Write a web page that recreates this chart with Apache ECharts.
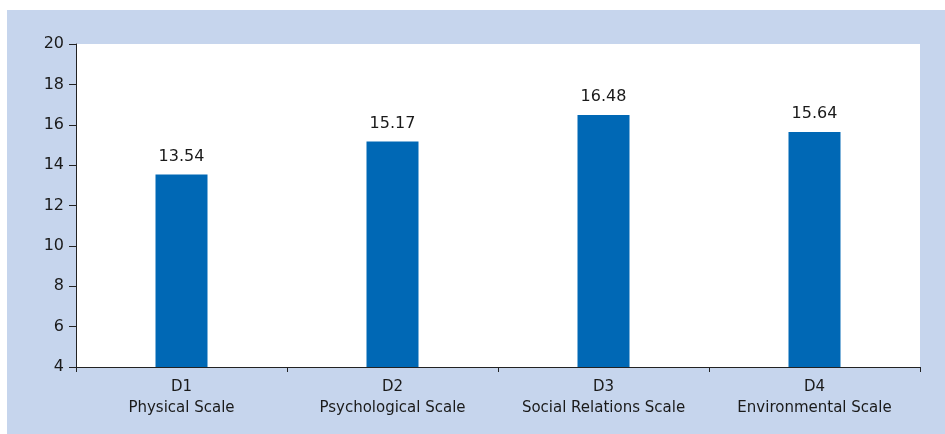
<!DOCTYPE html>
<html>
<head>
<meta charset="utf-8">
<script src="https://cdn.jsdelivr.net/npm/echarts@6/dist/echarts.min.js"></script>
<style>
  html, body { margin: 0; padding: 0; background: #ffffff; }
  #chart { width: 945px; height: 434px; }
</style>
</head>
<body>
<div id="chart"></div>
<script>
// data
var categories = ['D1\nPhysical Scale', 'D2\nPsychological Scale', 'D3\nSocial Relations Scale', 'D4\nEnvironmental Scale'];
var scores = [13.54, 15.17, 16.48, 15.64];
var yMin = 4, yMax = 20, yStep = 2;

var font = 'DejaVu Sans, Liberation Sans, sans-serif';
var chart = echarts.init(document.getElementById('chart'));

var option = {
    animation: false,
    backgroundColor: '#ffffff',
    graphic: [{
        type: 'rect',
        z: -10,
        shape: { x: 7, y: 10, width: 938, height: 424 },
        style: { fill: '#c6d5ed' }
    }],
    grid: {
        left: 76, right: 25, top: 44, bottom: 67,
        show: true,
        backgroundColor: '#ffffff',
        borderWidth: 0
    },
    xAxis: {
        type: 'category',
        data: categories,
        axisLine: { lineStyle: { color: '#222', width: 1 } },
        axisTick: { show: true, interval: 0, alignWithLabel: false, length: 5, lineStyle: { color: '#222' } },
        axisLabel: {
            interval: 0,
            hideOverlap: false,
            color: '#1a1a1a',
            fontFamily: font,
            fontSize: 15,
            lineHeight: 21,
            margin: 10
        }
    },
    yAxis: {
        type: 'value',
        min: yMin, max: yMax, interval: yStep,
        splitLine: { show: false },
        axisLine: { show: true, lineStyle: { color: '#222', width: 1 } },
        axisTick: { show: true, length: 7, lineStyle: { color: '#222' } },
        axisLabel: {
            color: '#1a1a1a',
            fontFamily: font,
            fontSize: 16,
            margin: 12
        }
    },
    series: [{
        type: 'bar',
        data: scores,
        barWidth: 52,
        itemStyle: { color: '#0068b5' },
        label: {
            show: true,
            position: 'top',
            distance: 10,
            color: '#1a1a1a',
            fontFamily: font,
            fontSize: 16,
            formatter: function (p) { return p.value.toFixed(2); }
        }
    }]
};

chart.setOption(option);
</script>
</body>
</html>
